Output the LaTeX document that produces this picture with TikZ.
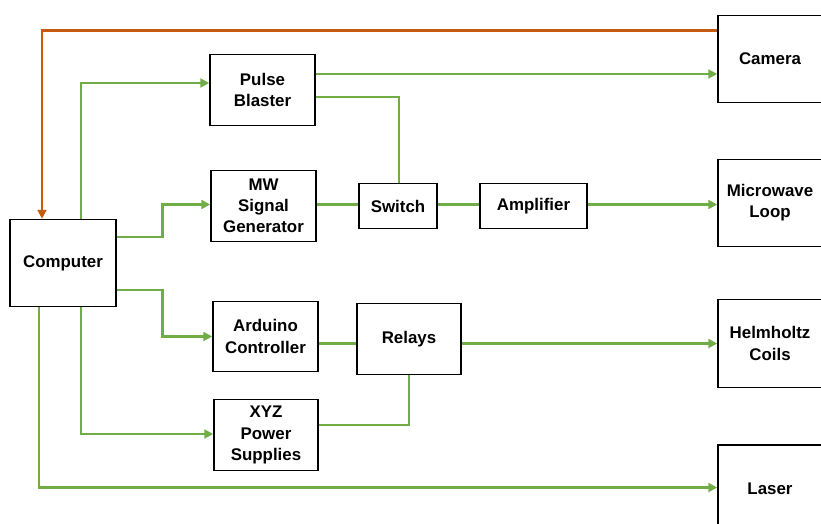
\documentclass[tikz,border=0pt]{standalone}
\usepackage{fontspec}
\setmainfont{Liberation Sans}
\usepackage{tikz}
\usetikzlibrary{arrows.meta,positioning,calc}
\definecolor{siggreen}{HTML}{70AD47}
\definecolor{camorange}{HTML}{C55A11}

\begin{document}
\begin{tikzpicture}[x=0.025cm, y=-0.025cm,
  blk/.style={rectangle, draw, line width=1.1pt, align=center, inner sep=2pt,
    minimum width=2.625cm, minimum height=1.775cm,
    font=\bfseries\fontsize{12}{15}\selectfont},
  wire/.style={siggreen, line width=2pt},
  arr/.style={wire, -{Triangle[length=2.2mm, width=2.2mm]}},
  back/.style={camorange, line width=2pt, -{Triangle[length=2.2mm, width=2.2mm]}}
]
\useasboundingbox (0,0) rectangle (821,524);

% Control side
\node[blk, minimum width=2.65cm, minimum height=2.175cm] (comp) at (63,263) {Computer};
\node[blk] (pulse)   at (262.5,90) {Pulse\\Blaster};
\node[blk] (mwgen)   at (263.5,206) {MW\\Signal\\Generator};
\node[blk, minimum width=1.95cm, minimum height=1.125cm] (switch) at (398,206) {Switch};
\node[blk, minimum width=2.675cm, minimum height=1.125cm] (amp)   at (533.5,206) {Amplifier};
\node[blk, minimum height=1.75cm] (arduino) at (265.5,336.5) {Arduino\\Controller};
\node[blk, minimum width=2.6cm] (relays)  at (409,339) {Relays};
\node[blk, minimum width=2.6cm] (xyz)     at (266,435) {XYZ\\Power\\Supplies};

% Experiment side
\node[blk, minimum width=2.6cm, minimum height=2.175cm] (camera) at (770,59)  {Camera};
\node[blk, minimum width=2.6cm, minimum height=2.175cm] (mwloop) at (770,203) {Microwave\\Loop};
\node[blk, minimum width=2.6cm, minimum height=2.2cm]   (helm)   at (770,343.5) {Helmholtz\\Coils};
\node[blk, minimum width=2.6cm, minimum height=2.175cm] (laser)  at (770,488.5) {Laser};

% Edges
\draw[back] ($(camera.north west)+(0,16)$) -| ($(comp.north)+(-21,0)$);
\draw[arr] ($(comp.north)+(18,0)$) |- ($(pulse.west)+(0,-7)$);
\draw[arr] ($(pulse.east)+(0,-16)$) coordinate (pbcam) -- (pbcam -| camera.west);
\draw[wire] ($(pulse.east)+(0,7)$) -| ($(switch.north)+(1,0)$);
\draw[arr] ($(comp.east)+(0,-26)$) -- ++(46,0) |- ($(mwgen.west)+(0,-1.5)$);
\draw[wire] ($(mwgen.east)+(0,-1.5)$) -- ($(switch.west)+(0,-1.5)$);
\draw[wire] ($(switch.east)+(0,-1.5)$) -- ($(amp.west)+(0,-1.5)$);
\draw[arr] ($(amp.east)+(0,-1.5)$) coordinate (ampout) -- (ampout -| mwloop.west);
\draw[arr] ($(comp.east)+(0,27)$) -- ++(46,0) |- (arduino.west);
\draw[wire] (helm.west -| arduino.east) -- (helm.west -| relays.west);
\draw[arr] (helm.west -| relays.east) -- (helm.west);
\draw[arr] ($(comp.south)+(18,0)$) |- ($(xyz.west)+(0,-1)$);
\draw[wire] ($(xyz.east)+(0,-10)$) -| (relays.south);
\draw[arr] ($(comp.south)+(-24,0)$) |- ($(laser.west)+(0,-1)$);

\end{tikzpicture}
\end{document}
